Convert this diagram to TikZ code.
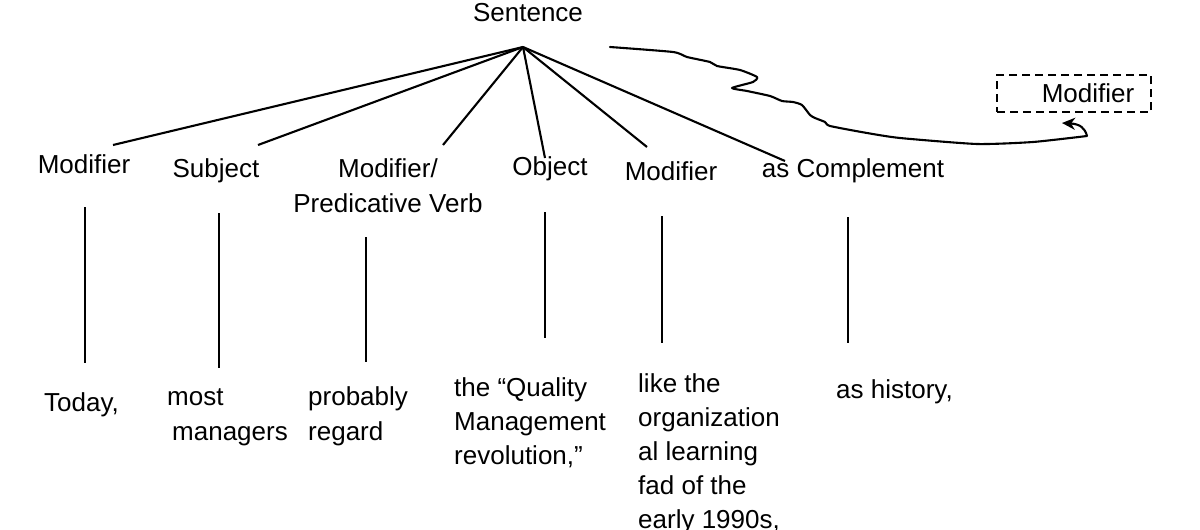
\documentclass[tikz,border=0pt]{standalone}
\usepackage{fontspec}
\setmainfont{Liberation Sans}
\usetikzlibrary{arrows.meta}
\begin{document}
\begin{tikzpicture}[x=1pt,y=-1pt,
  lbl/.style={font=\fontsize{26}{35}\selectfont, inner sep=0pt, anchor=base},
  txt/.style={font=\fontsize{26}{34}\selectfont, inner sep=0pt, anchor=north west, align=left},
  edge/.style={line width=2.1pt},
  dbox/.style={draw, line width=1.8pt, dash pattern=on 8pt off 5pt, minimum width=154pt, minimum height=37pt, inner sep=0pt, font=\fontsize{26}{34}\selectfont}
]
\useasboundingbox (0,0) rectangle (1200,530);

% root
\node[lbl] (sent) at (528,21) {Sentence};
\coordinate (apex) at (523,47);

% first row labels
\node[lbl] (m1) at (84,173) {Modifier};
\node[lbl] (subj) at (216,177) {Subject};
\node[lbl, align=center] (pv) at (388,212) {Modifier/\\Predicative Verb};
\node[lbl] (obj) at (550,175) {Object};
\node[lbl] (m4) at (671,180) {Modifier};
\node[lbl] (comp) at (853,177) {as Complement};

% line ends
\coordinate (e1) at (113,145);
\coordinate (e2) at (258,145);
\coordinate (e3) at (443,145);
\coordinate (e4) at (545,158);
\coordinate (e5) at (647,147);
\coordinate (e6) at (785,161);
\foreach \e in {e1,e2,e3,e4,e5,e6} \draw[edge] (apex) -- (\e);

% vertical lines
\coordinate (v1a) at (85,207);  \coordinate (v1b) at (85,363);
\coordinate (v2a) at (219,213); \coordinate (v2b) at (219,368);
\coordinate (v3a) at (366,237); \coordinate (v3b) at (366,362);
\coordinate (v4a) at (545,212); \coordinate (v4b) at (545,338);
\coordinate (v5a) at (662,216); \coordinate (v5b) at (662,343);
\coordinate (v6a) at (848,217); \coordinate (v6b) at (848,343);
\foreach \i in {1,...,6} \draw[edge] (v\i a) -- (v\i b);

% bottom texts
\node[txt] (t1) at (44,387) {\strut Today,};
\node[txt] (t2) at (167,381) {\strut most\\[1pt]\hspace*{5pt}managers};
\node[txt] (t3) at (308,381) {\strut probably\\[1pt]regard};
\node[txt] (t4) at (454,372.5) {\strut the “Quality\\Management\\revolution,”};
\node[txt] (t5) at (638,368) {\strut like the\\organization\\al learning\\fad of the\\early 1990s,};
\node[txt] (t6) at (836,374) {\strut as history,};

% dashed modifier box
\node[dbox] (mbox) at (1074,93.5) {\hspace*{28pt}Modifier};

% hand-drawn curve
\coordinate (cs) at (610,47);
\coordinate (ce) at (1087,136);
\draw[edge, line join=round, line cap=round] plot[smooth, tension=0.35] coordinates {
 (610,47) (673,52) (687,57) (710,62) (717,66) (740,70) (757,77) (753,82) (732,88)
 (747,91) (770,96) (782,101) (793,102) (802,105) (810,115) (815,118) (825,122)
 (830,126) (867,133) (900,138) (977,144) (1033,142) (1087,136)};
\coordinate (tip) at (1062,123);
\draw[edge, -{Stealth[length=13pt,width=12pt,inset=4pt]}] (ce) .. controls (1085,128) and (1080,124) .. (tip);
\end{tikzpicture}
\end{document}
